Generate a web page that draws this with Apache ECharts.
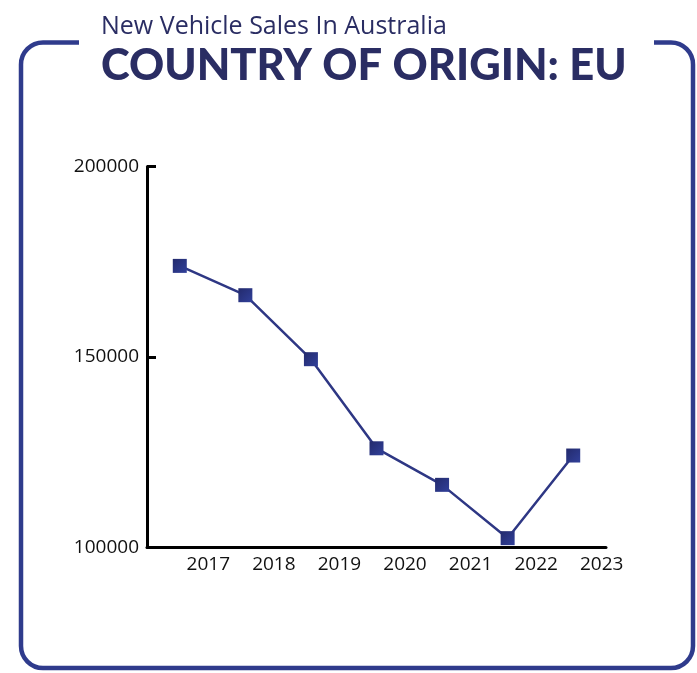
<!DOCTYPE html>
<html>
<head>
<meta charset="utf-8">
<script src="https://cdn.jsdelivr.net/npm/echarts@6/dist/echarts.min.js"></script>
<style>
html,body{margin:0;padding:0;background:#fff;}
#chart{width:697px;height:673px;}
</style>
</head>
<body>
<div id="chart"></div>
<script>
// Data
const years = ['2017', '2018', '2019', '2020', '2021', '2022', '2023'];
const sales = [173900, 166200, 149400, 126000, 116400, 102400, 124100];
const yTicks = [100000, 150000, 200000];
const titleLine1 = 'New Vehicle Sales In Australia';
const titleLine2 = 'COUNTRY OF ORIGIN: EU';

const navy = '#2a2d63';
const frame = '#2f3b8c';

const chart = echarts.init(document.getElementById('chart'), null, {renderer: 'canvas'});
chart.setOption({
  animation: false,
  backgroundColor: '#ffffff',
  title: [
    {text: titleLine1, left: 96, top: 9, z: 10,
     textStyle: {fontFamily: 'Open Sans', fontWeight: 'normal', fontSize: 25, color: navy}},
    {text: titleLine2, left: 96, top: 39, z: 10,
     textStyle: {fontFamily: 'Lato', fontWeight: 900, fontSize: 43.5, color: navy}}
  ],
  graphic: [
    {type: 'rect', z: 1, silent: true,
     shape: {x: 21, y: 42.5, width: 672, height: 625.5, r: 22},
     style: {fill: 'none', stroke: frame, lineWidth: 4.5}},
    {type: 'rect', z: 2, silent: true,
     shape: {x: 79, y: 36, width: 575, height: 14},
     style: {fill: '#ffffff'}}
  ],
  grid: {left: 147, right: 91, top: 166.5, bottom: 125.7, outerBoundsMode: 'none'},
  xAxis: {
    type: 'category',
    data: years,
    boundaryGap: true,
    axisLine: {lineStyle: {color: '#000', width: 3}},
    axisTick: {inside: true, length: 9, lineStyle: {color: '#000', width: 3}},
    axisLabel: {
      color: '#111', fontFamily: 'Open Sans', fontSize: 19, margin: 8,
      padding: [0, 0, 0, 57]
    },
    splitLine: {show: false}
  },
  yAxis: {
    type: 'value',
    min: yTicks[0], max: yTicks[yTicks.length - 1], interval: yTicks[1] - yTicks[0],
    axisLine: {show: true, lineStyle: {color: '#000', width: 3}},
    axisTick: {show: true, inside: true, length: 9, lineStyle: {color: '#000', width: 3}},
    axisLabel: {color: '#111', fontFamily: 'Open Sans', fontSize: 19, margin: 8,
      formatter: function (v) { return String(v); }},
    splitLine: {show: false}
  },
  series: [{
    type: 'line',
    data: sales,
    symbol: 'rect',
    symbolSize: 14,
    lineStyle: {color: '#2e3784', width: 2.5},
    itemStyle: {color: new echarts.graphic.LinearGradient(0, 0, 1, 1, [
      {offset: 0, color: '#232a6c'}, {offset: 1, color: '#31409a'}])},
    z: 5
  }]
});
</script>
</body>
</html>
